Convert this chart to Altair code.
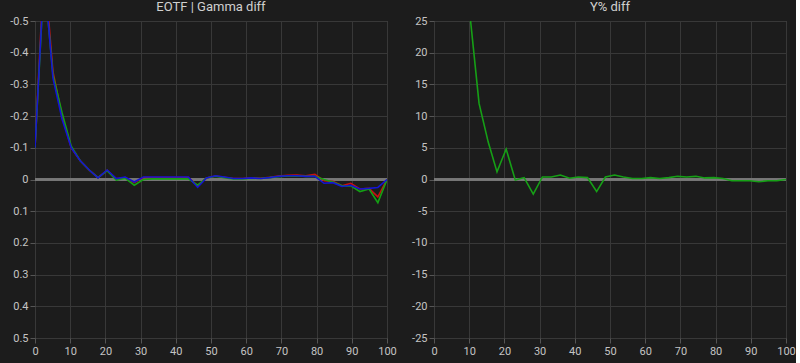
import altair as alt
import pandas as pd

# Stimulus levels (% input)
x_levels = [0, 2.6, 5.1, 7.7, 10.3, 12.8, 15.4, 17.9, 20.5, 23.1,
            25.6, 28.2, 30.8, 33.3, 35.9, 38.5, 41.0, 43.6, 46.2, 48.7,
            51.3, 53.8, 56.4, 59.0, 61.5, 64.1, 66.7, 69.2, 71.8, 74.4,
            76.9, 79.5, 82.1, 84.6, 87.2, 89.7, 92.3, 94.9, 97.4, 100]

gamma_red = [-0.10, -0.68, -0.34, -0.20, -0.10, -0.06, -0.03, -0.006, -0.029, -0.002,
             -0.006, 0.010, -0.006, -0.006, -0.006, -0.006, -0.006, -0.006, 0.020, -0.005,
             -0.011, -0.007, -0.003, -0.003, -0.005, -0.004, -0.007, -0.011, -0.013, -0.014,
             -0.012, -0.016, 0.004, 0.006, 0.020, 0.012, 0.030, 0.028, 0.055, 0.0]

gamma_green = [-0.10, -0.64, -0.33, -0.21, -0.105, -0.06, -0.03, -0.006, -0.028, 0.002,
               -0.004, 0.018, 0.0, -0.002, -0.002, -0.002, -0.002, -0.002, 0.018, -0.005,
               -0.010, -0.006, -0.002, -0.002, -0.004, -0.003, -0.006, -0.009, -0.011, -0.012,
               -0.010, -0.010, 0.000, 0.008, 0.020, 0.020, 0.038, 0.030, 0.073, 0.0]

gamma_blue = [-0.10, -0.65, -0.32, -0.19, -0.10, -0.06, -0.03, -0.005, -0.030, -0.003,
              -0.008, 0.008, -0.008, -0.008, -0.008, -0.008, -0.008, -0.008, 0.025, -0.005,
              -0.012, -0.008, -0.003, -0.003, -0.005, -0.003, -0.006, -0.010, -0.012, -0.012,
              -0.010, -0.010, 0.012, 0.010, 0.022, 0.018, 0.030, 0.028, 0.025, 0.0]

# Y% diff (starting at 10.3 %)
y_levels = x_levels[4:]
y_diff = [25.5, 12.0, 5.9, 1.2, 4.8, -0.1, 0.3, -2.3, 0.4, 0.4,
          0.7, 0.2, 0.4, 0.3, -1.9, 0.4, 0.7, 0.4, 0.15, 0.15,
          0.3, 0.15, 0.3, 0.5, 0.4, 0.5, 0.25, 0.3, 0.15, -0.2,
          -0.2, -0.2, -0.35, -0.2, -0.2, 0.0]

gamma_ticks = [-0.5, -0.4, -0.3, -0.2, -0.1, 0, 0.1, 0.2, 0.3, 0.4, 0.5]
y_ticks = [25, 20, 15, 10, 5, 0, -5, -10, -15, -20, -25]
x_ticks = [0, 10, 20, 30, 40, 50, 60, 70, 80, 90, 100]

BG = "#1c1c1c"
GRID = "#383838"
FRAME = "#555555"
LABEL = "#c4c4c4"
FONT = "Roboto"

gdf = pd.DataFrame({"x": x_levels, "R": gamma_red, "G": gamma_green, "B": gamma_blue})
ydf = pd.DataFrame({"x": y_levels, "y": y_diff})

label_expr = "datum.value == 0 ? '0' : replace(datum.label, '\u2212', '-')"

x_enc = alt.X("x:Q", title=None,
              scale=alt.Scale(domain=[0, 100], nice=False, zero=False),
              axis=alt.Axis(values=x_ticks, format="d", tickCount=30))

W, H = 352, 317

gamma_axis = alt.Axis(values=gamma_ticks, format=".1f", labelExpr=label_expr, tickCount=30)
gamma_scale = alt.Scale(domain=[-0.5, 0.5], reverse=True, nice=False, zero=False)

def gline(field, color):
    return alt.Chart(gdf).mark_line(color=color, strokeWidth=1.6, clip=True).encode(
        x=x_enc,
        y=alt.Y(f"{field}:Q", title=None, scale=gamma_scale, axis=gamma_axis),
    )

zero_left = alt.Chart(gdf).mark_rule(color="#787878", strokeWidth=1.3).encode(
    y=alt.datum(0, scale=gamma_scale, axis=gamma_axis))

left = alt.layer(
    zero_left,
    gline("R", "#c81010"),
    gline("G", "#14a014"),
    gline("B", "#1414d2"),
).properties(width=W, height=H, title="EOTF | Gamma diff")

y_axis = alt.Axis(values=y_ticks, format="d", labelExpr=label_expr, tickCount=30)
y_scale = alt.Scale(domain=[-25, 25], nice=False, zero=False)

yline = alt.Chart(ydf).mark_line(color="#16a016", strokeWidth=1.6, clip=True).encode(
    x=x_enc,
    y=alt.Y("y:Q", title=None, scale=y_scale, axis=y_axis),
)
zero_right = alt.Chart(ydf).mark_rule(color="#787878", strokeWidth=1.3).encode(
    y=alt.datum(0, scale=y_scale, axis=y_axis))

right = alt.layer(zero_right, yline).properties(width=W, height=H, title="Y% diff")

chart = alt.hconcat(left, right, spacing=47, bounds="flush").properties(
    background=BG,
    padding={"left": 4, "top": 0, "right": 0, "bottom": 0},
).configure_view(
    stroke=FRAME, strokeWidth=1, fill=BG
).configure_axis(
    grid=True, gridColor=GRID, gridWidth=1,
    domain=False,
    tickColor=FRAME, tickSize=5,
    labelColor=LABEL, labelFont=FONT, labelFontSize=11, labelPadding=2,
    labelOverlap=False, labelFlush=False,
    minExtent=30, maxExtent=30,
).configure_title(
    color="#d0d0d0", font=FONT, fontSize=13, fontWeight="normal",
    anchor="middle", offset=1,
)

chart.save("out.html", embed_options={"renderer": "svg", "actions": False})
